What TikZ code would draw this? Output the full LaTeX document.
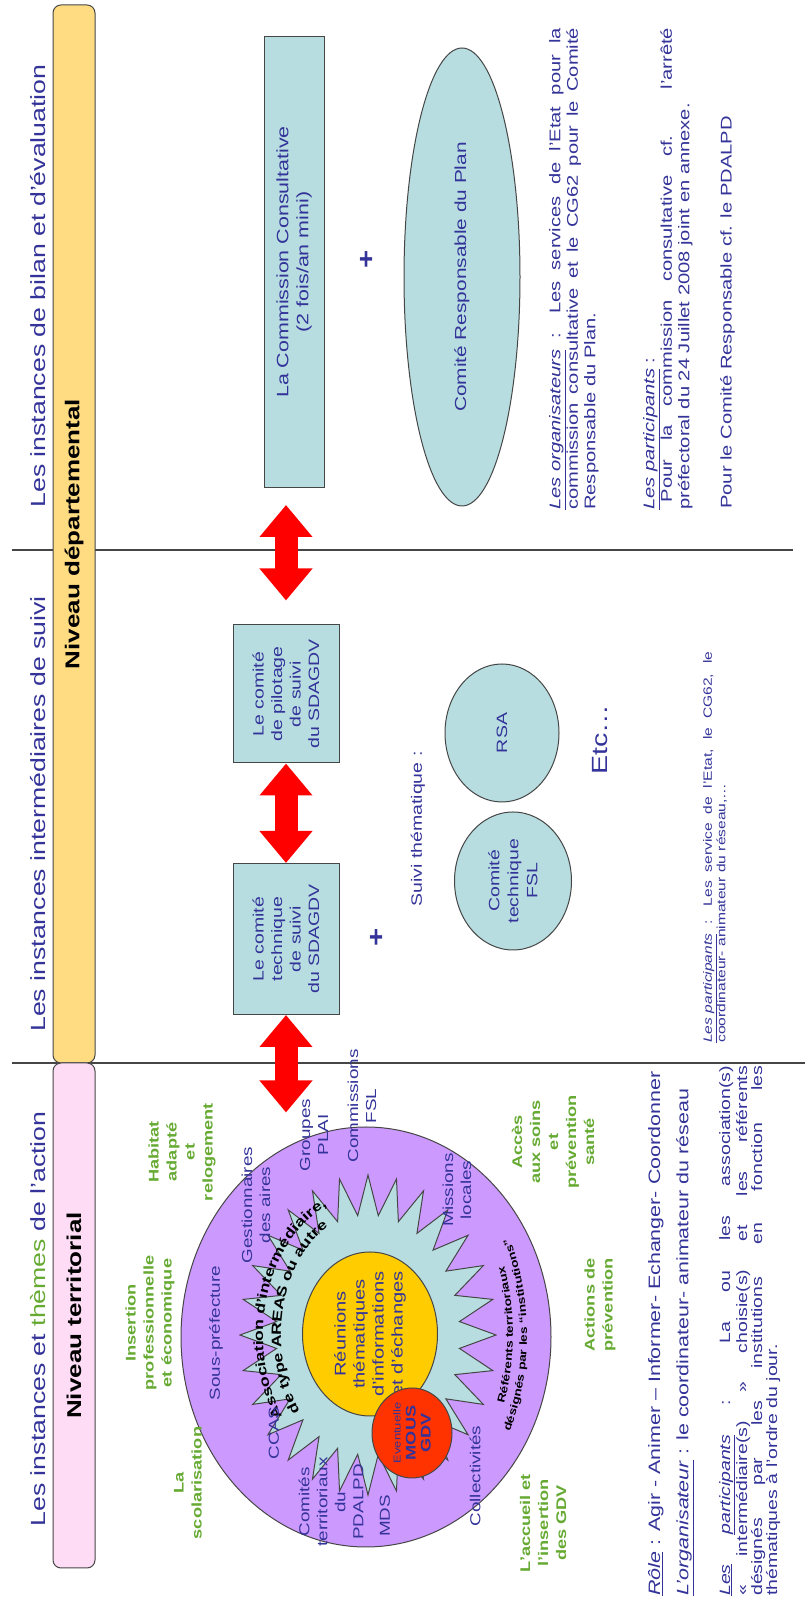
\documentclass[tikz,border=0pt]{standalone}
\usepackage{fontspec}
\setmainfont{Liberation Sans}[FakeStretch=1.3]
\usetikzlibrary{shapes.geometric,arrows.meta,decorations.text}

\definecolor{inkblue}{RGB}{51,51,153}
\definecolor{themegreen}{RGB}{102,170,51}
\definecolor{framegray}{RGB}{70,70,70}
\definecolor{boxblue}{RGB}{183,221,224}
\definecolor{bandyellow}{RGB}{255,220,130}
\definecolor{bandpink}{RGB}{255,220,246}
\definecolor{lilac}{RGB}{204,153,255}
\definecolor{gold}{RGB}{255,204,0}
\definecolor{mousred}{RGB}{255,51,0}

\tikzset{
  infobox/.style={draw=framegray, line width=1pt, fill=boxblue, text=inkblue, align=center, font=\fontsize{15}{18.5}\selectfont},
  bubble/.style={ellipse, draw=framegray, line width=1pt, fill=boxblue, text=inkblue, align=center, inner sep=0pt, font=\fontsize{15}{19}\selectfont},
  levelband/.style={draw=framegray, line width=1pt, rounded corners=8pt, minimum height=42pt, font=\bfseries\fontsize{20}{24}\selectfont},
  heading/.style={text=inkblue, font=\fontsize{20.5}{24}\selectfont},
  themetext/.style={text=themegreen, align=center, font=\bfseries\fontsize{14}{18}\selectfont},
  actortext/.style={text=inkblue, align=center, font=\fontsize{14.5}{18}\selectfont},
  notetext/.style={text=inkblue, align=justify, anchor=north west, inner sep=0pt},
  plussign/.style={text=inkblue, font=\bfseries\fontsize{24}{24}\selectfont},
  redarrow/.style={draw=red, line width=23pt, {Triangle[length=32pt,width=51pt]}-{Triangle[length=32pt,width=51pt]}},
  arctext/.style={decorate, decoration={text along path, text align=center, text={#1}}},
}

\begin{document}
\begin{tikzpicture}[x=1pt, y=1pt, rotate=90, transform shape]
	\useasboundingbox (0,0) rectangle (1599,-809);
	% separations between the three columns
	\draw[framegray, line width=1.2pt] (536,-12) -- (536,-805);
	\draw[framegray, line width=1.2pt] (1049,-12) -- (1049,-793);
	% level bands
	\node[levelband, fill=bandyellow, minimum width=1058pt] (departemental) at (1065,-74) {Niveau départemental};
	\node[levelband, fill=bandpink, minimum width=505pt] (territorial) at (283.5,-74) {Niveau territorial};
	% headings
	\node[heading] (hbilan) at (1313,-38) {Les instances de bilan et d'évaluation};
	\node[heading] (hsuivi) at (785,-38) {Les instances intermédiaires de suivi};
	\node[heading] (haction) at (280,-38) {Les instances et {\color{themegreen}thèmes} de l'action};

	% bilan et evaluation
	\node[infobox, minimum width=451pt, minimum height=60pt, font=\fontsize{16.5}{20}\selectfont] (commission) at (1337,-294) {La Commission Consultative\\(2 fois/an mini)};
	\node[plussign] (plusbilan) at (1340,-367) {+};
	\node[bubble, minimum width=458pt, minimum height=116pt, font=\fontsize{16}{19}\selectfont] (plan) at (1322,-462) {Comité Responsable du Plan};
	\node[notetext, text width=482pt, font=\fontsize{15.5}{17.5}\selectfont] (organisateurs) at (1089,-549) {\underline{\textit{Les organisateurs}} : Les services de l'Etat pour la\linebreak commission consultative et le CG62 pour le Comité\linebreak Responsable du Plan.};
	\node[notetext, text width=482pt, font=\fontsize{15.5}{17.5}\selectfont] (participantsbilan) at (1089,-643) {\underline{\textit{Les participants}} :\\\hspace*{0.5em}Pour la commission consultative cf. l'arrêté\linebreak préfectoral du 24 Juillet 2008 joint en annexe.};
	\node[notetext, text width=482pt, font=\fontsize{15.5}{17.5}\selectfont] (pdalpd) at (1090,-720) {Pour le Comité Responsable cf. le PDALPD};

	% instances de suivi
	\node[infobox, minimum width=138pt, minimum height=106pt] (pilotage) at (905,-286) {Le comité\\de pilotage\\de suivi\\du SDAGDV};
	\node[infobox, minimum width=151pt, minimum height=106pt] (technique) at (660,-286) {Le comité\\technique\\de suivi\\du SDAGDV};
	\node[plussign] (plussuivi) at (662,-377) {+};
	\node[actortext, font=\fontsize{15}{18}\selectfont] (suivi) at (770,-418) {Suivi thématique :};
	\node[bubble, minimum width=138pt, minimum height=117pt] (fsl) at (718,-513) {Comité\\technique\\FSL};
	\node[bubble, minimum width=138pt, minimum height=114pt] (rsa) at (866,-502) {RSA};
	\node[text=inkblue, font=\fontsize{22}{24}\selectfont] (etc) at (859,-600) {Etc…};
	\node[notetext, text width=391pt, font=\fontsize{12}{13.5}\selectfont] (participantssuivi) at (556,-703) {\underline{\textit{Les participants}} : Les service de l'Etat, le CG62, le\linebreak coordinateur- animateur du réseau,…};

	% territorial network
	\node[ellipse, draw=framegray, line width=1pt, fill=lilac, minimum width=420pt, minimum height=370pt] (reseau) at (262,-366) {};
	\draw[framegray, line width=1pt, fill=boxblue, line join=miter] plot[samples at={0,...,55}] ({264+(160-40*mod(\x,2))*cos(\x*6.42857)}, {-368+(128-36*mod(\x,2))*sin(\x*6.42857)}) -- cycle;
	\path[arctext={|\bfseries\fontsize{13.5}{13.5}\selectfont|Association d'intermédiaire,}] (264,-368) ++(138:140 and 105) arc[start angle=138, end angle=8, x radius=140, y radius=105];
	\path[arctext={|\bfseries\fontsize{13.5}{13.5}\selectfont|de type AREAS ou autre}] (264,-368) ++(140:122 and 87) arc[start angle=140, end angle=14, x radius=122, y radius=87];
	\path[arctext={|\bfseries\fontsize{10.5}{10.5}\selectfont|Référents territoriaux}] (264,-368) ++(236:200 and 145) arc[start angle=236, end angle=304, x radius=200, y radius=145];
	\path[arctext={|\bfseries\fontsize{10.5}{10.5}\selectfont|désignés par les “institutions”}] (264,-368) ++(232:214 and 159) arc[start angle=232, end angle=308, x radius=214, y radius=159];
	\node[ellipse, draw=framegray, line width=1pt, fill=gold, minimum width=164pt, minimum height=135pt] (reunions) at (265,-370) {};
	\node[text=inkblue, align=center, font=\fontsize{15.5}{19}\selectfont] (reunionstext) at (reunions.center) {Réunions\\thématiques\\d'informations\\et d'échanges};
	\node[ellipse, draw=framegray, line width=1pt, fill=mousred, minimum width=90pt, minimum height=80pt] (mous) at (166,-412) {};
	\node[text=inkblue, align=center, font=\bfseries\fontsize{14}{15}\selectfont] (moustext) at (mous.center) {{\mdseries\fontsize{10}{11}\selectfont Eventuelle}\\MOUS\\GDV};
	% actors of the network
	\node[actortext] (sousprefecture) at (266,-216) {Sous-préfecture};
	\node[actortext] (ccas) at (166,-274) {CCAS};
	\node[actortext] (gestionnaires) at (394,-256) {Gestionnaires\\des aires};
	\node[actortext] (plai) at (464,-314) {Groupes\\PLAI};
	\node[actortext] (commissionsfsl) at (493,-362) {Commissions\\FSL};
	\node[actortext] (missions) at (409,-457) {Missions\\locales};
	\node[actortext] (collectivites) at (123,-475) {Collectivités};
	\node[actortext] (mds) at (83,-385) {MDS};
	\node[actortext] (comites) at (97,-331) {Comités\\territoriaux\\du\\PDALPD};
	% themes
	\node[themetext] (scolarisation) at (116,-188) {La\\scolarisation};
	\node[themetext] (insertion) at (276,-150) {Insertion\\professionnelle\\et économique};
	\node[themetext] (habitat) at (447,-182) {Habitat\\adapté\\et\\relogement};
	\node[themetext] (accueil) at (76,-543) {L'accueil et\\l'insertion\\des GDV};
	\node[themetext] (prevention) at (294,-600) {Actions de\\prévention};
	\node[themetext] (soins) at (457,-553) {Accès\\aux soins\\et\\prévention\\santé};
	% red links between the levels
	\draw[redarrow, shorten >=14pt] (technique.west) -- (technique.west -| reseau.east);
	\draw[redarrow] (technique.east) -- (pilotage.west);
	\draw[redarrow, shorten <=24pt, shorten >=17pt] (pilotage.east) -- (pilotage.east -| commission.west);
	% notes of the territorial level
	\node[notetext, text width=530pt, font=\fontsize{16.5}{18}\selectfont] (role) at (3,-648) {\underline{\textit{Rôle}} : Agir - Animer – Informer- Echanger- Coordonner};
	\node[notetext, text width=530pt, font=\fontsize{16.5}{18}\selectfont] (organisateur) at (3,-676) {\underline{\textit{L'organisateur}} : le coordinateur- animateur du réseau};
	\node[notetext, text width=530pt, font=\fontsize{15}{15}\selectfont] (participantsaction) at (3,-719) {\underline{\textit{Les}} \underline{\textit{participants}} : La ou les association(s)\linebreak « intermédiaire(s) » choisie(s) et les référents\linebreak désignés par les institutions en fonction les\linebreak thématiques à l'ordre du jour.};
\end{tikzpicture}
\end{document}
